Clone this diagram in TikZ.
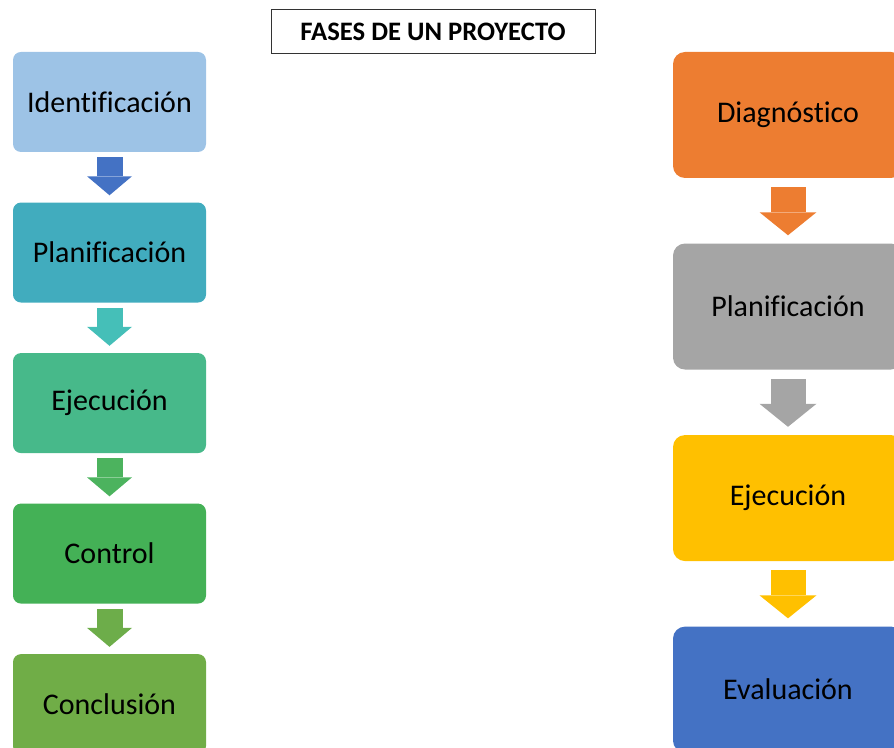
\documentclass[tikz,border=0pt]{standalone}
\usepackage{fontspec}
\setmainfont{Carlito}[Ligatures=NoCommon]
\usepackage{xcolor}
\usepackage{tikz}
\usetikzlibrary{positioning}
\usetikzlibrary{arrows.meta}
\definecolor{cIdent}{HTML}{9DC3E6}
\definecolor{cPlan}{HTML}{41ACBE}
\definecolor{cEjec}{HTML}{47B98A}
\definecolor{cCtrl}{HTML}{44B156}
\definecolor{cConc}{HTML}{70AD47}
\definecolor{aIdent}{HTML}{4472C4}
\definecolor{aPlan}{HTML}{45BFB8}
\definecolor{aEjec}{HTML}{4CB35E}
\definecolor{aCtrl}{HTML}{6DAD4A}
\definecolor{cDiag}{HTML}{ED7D31}
\definecolor{cGris}{HTML}{A5A5A5}
\definecolor{cAmar}{HTML}{FFC000}
\definecolor{cEval}{HTML}{4472C4}
\tikzset{
    phase/.style = {align=center, inner sep=0pt, text centered, font=\fontsize{22.5}{26}\selectfont},
    lbox/.style = {phase, rectangle, rounded corners=6pt, minimum width=144.75pt, minimum height=75pt},
    rbox/.style = {phase, rectangle, rounded corners=9pt, minimum width=172.5pt, minimum height=94.5pt},
    larrow/.style = {draw=#1, line width=19.5pt, shorten <=3.75pt, shorten >=5.25pt,
        -{Triangle[length=14.25pt, width=33.75pt, line width=0pt, fill=#1]}},
    rarrow/.style = {draw=#1, line width=26.25pt, shorten <=6.75pt, shorten >=6pt,
        -{Triangle[length=17.25pt, width=42.75pt, line width=0pt, fill=#1]}},
    titlebox/.style = {rectangle, draw=black!80, line width=0.75pt, minimum width=243pt, minimum height=33pt,
        inner sep=0pt, font=\bfseries\fontsize{20}{24}\selectfont}
}
\begin{document}
\begin{tikzpicture}[x=0.75pt, y=-0.75pt]
    \useasboundingbox (0,0) rectangle (894,748);
    \clip (0,0) rectangle (894,748);

    \node [titlebox] (titulo) at (433,32) {FASES DE UN PROYECTO};

    % primera columna
    \begin{scope}[node distance=37.5pt]
        \node [lbox, fill=cIdent] (ident) at (109.5,102) {Identificación};
        \node [lbox, fill=cPlan, below=of ident] (plan) {Planificación};
        \node [lbox, fill=cEjec, below=of plan] (ejec) {Ejecución};
        \node [lbox, fill=cCtrl, below=of ejec] (ctrl) {Control};
        \node [lbox, fill=cConc, below=of ctrl] (concl) {Conclusión};
    \end{scope}
    \draw [larrow=aIdent] (ident) -- (plan);
    \draw [larrow=aPlan] (plan) -- (ejec);
    \draw [larrow=aEjec] (ejec) -- (ctrl);
    \draw [larrow=aCtrl] (ctrl) -- (concl);

    % segunda columna
    \begin{scope}[node distance=48.75pt]
        \node [rbox, fill=cDiag] (diag) at (788,115) {Diagnóstico};
        \node [rbox, fill=cGris, below=of diag] (rplan) {Planificación};
        \node [rbox, fill=cAmar, below=of rplan] (rejec) {Ejecución};
        \node [rbox, fill=cEval, below=of rejec] (eval) {Evaluación};
    \end{scope}
    \draw [rarrow=cDiag] (diag) -- (rplan);
    \draw [rarrow=cGris] (rplan) -- (rejec);
    \draw [rarrow=cAmar] (rejec) -- (eval);
\end{tikzpicture}
\end{document}
